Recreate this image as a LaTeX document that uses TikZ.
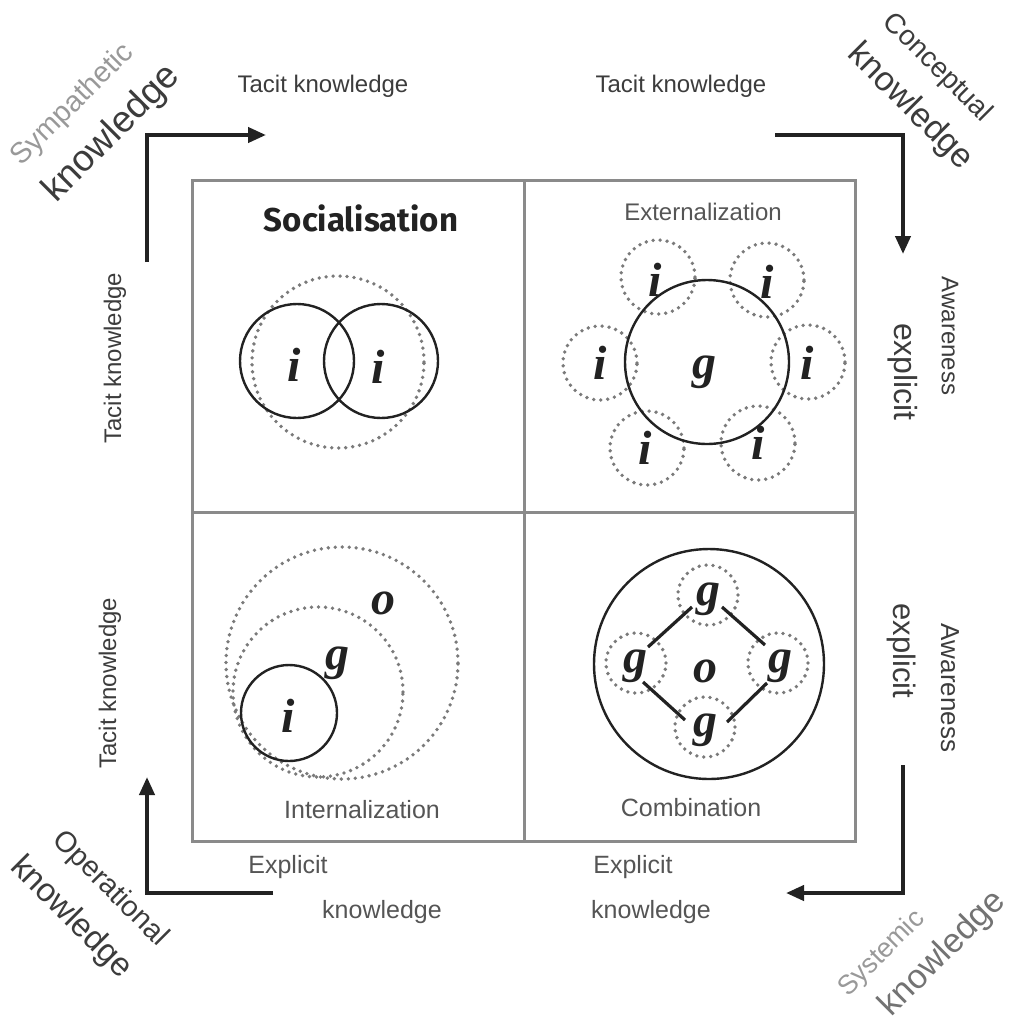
\documentclass[tikz,border=0pt]{standalone}
\usepackage{fontspec}
\setmainfont{Liberation Sans}
\newfontfamily\letfont{Liberation Serif}
\newfontfamily\socfont{Fira Sans}
\usetikzlibrary{arrows.meta}
\definecolor{txt}{HTML}{3C3C3C}
\definecolor{subt}{HTML}{555555}
\definecolor{framec}{HTML}{8A8A8A}
\definecolor{dotcol}{HTML}{7A7A7A}
\definecolor{ink}{HTML}{222222}
\begin{document}
\begin{tikzpicture}[x=1pt,y=-1pt,
  lbl/.style={text=txt, inner sep=0pt, font=\fontsize{24}{28}\selectfont},
  sub/.style={text=subt, inner sep=0pt, font=\fontsize{25}{28}\selectfont},
  bigl/.style={text=txt, inner sep=0pt, font=\fontsize{32}{36}\selectfont},
  corn/.style={inner sep=0pt},
  letter/.style={inner sep=0pt, text=ink, font=\letfont\bfseries\itshape\fontsize{48}{50}\selectfont},
  solidc/.style={circle, draw=ink, line width=2.4pt, inner sep=0pt},
  dotc/.style={circle, draw=dotcol, line width=3.8pt, dash pattern=on 0pt off 7pt, line cap=round, inner sep=0pt},
  arr/.style={line width=4pt, draw=ink, -{Triangle[length=18pt,width=15pt]}},
  framel/.style={draw=framec, line width=3pt},
  link/.style={draw=ink, line width=3.2pt}
]
\useasboundingbox (0,0) rectangle (1024,1021);
\fill[white] (0,0) rectangle (1024,1021);

% frame
\coordinate (ftl) at (192,180);
\coordinate (fbr) at (855,841);
\coordinate (vt) at (524,180);
\coordinate (vb) at (524,841);
\coordinate (hl) at (192,512);
\coordinate (hr) at (855,512);
\draw[framel] (ftl) rectangle (fbr);
\draw[framel] (vt) -- (vb);
\draw[framel] (hl) -- (hr);

% arrows
\coordinate (a1s) at (147,262); \coordinate (a1c) at (147,135); \coordinate (a1e) at (266,135);
\draw[arr] (a1s) -- (a1c) -- (a1e);
\coordinate (a2s) at (775,135); \coordinate (a2c) at (903,135); \coordinate (a2e) at (903,254);
\draw[arr] (a2s) -- (a2c) -- (a2e);
\coordinate (a3s) at (903,765); \coordinate (a3c) at (903,893); \coordinate (a3e) at (786,893);
\draw[arr] (a3s) -- (a3c) -- (a3e);
\coordinate (a4s) at (273,893); \coordinate (a4c) at (147,893); \coordinate (a4e) at (147,777);
\draw[arr] (a4s) -- (a4c) -- (a4e);

% outer labels
\node[lbl] (ttl) at (323,86) {Tacit knowledge};
\node[lbl] (ttr) at (681,86) {Tacit knowledge};
\node[lbl, rotate=90] (tlu) at (115,358) {Tacit knowledge};
\node[lbl, rotate=90] (tll) at (110,683) {Tacit knowledge};
\node[lbl, rotate=-90] (awu) at (950,336) {Awareness};
\node[bigl, rotate=-90] (exu) at (903,372) {explicit};
\node[lbl, rotate=-90, font=\fontsize{26}{28}\selectfont] (awl) at (950,688) {Awareness};
\node[bigl, rotate=-90, font=\fontsize{31}{34}\selectfont] (exl) at (901,651) {explicit};
\node[sub] (ebl) at (288,867) {Explicit};
\node[sub] (kbl) at (382,912) {knowledge};
\node[sub] (ebr) at (633,867) {Explicit};
\node[sub] (kbr) at (651,912) {knowledge};

% corner labels
\node[corn, rotate=45, text=black!40, font=\fontsize{29}{32}\selectfont] (symp) at (73,105) {Sympathetic};
\node[corn, rotate=45, text=txt, font=\fontsize{37}{40}\selectfont] (sympk) at (112,134) {knowledge};
\node[corn, rotate=-45, text=txt, font=\fontsize{28}{32}\selectfont] (conc) at (937,68) {Conceptual};
\node[corn, rotate=-45, text=txt, font=\fontsize{34}{38}\selectfont] (conck) at (910,107) {knowledge};
\node[corn, rotate=-45, text=txt, font=\fontsize{29}{32}\selectfont] (oper) at (110,889) {Operational};
\node[corn, rotate=-45, text=txt, font=\fontsize{33}{36}\selectfont] (operk) at (71,918) {knowledge};
\node[corn, rotate=45, text=black!40, font=\fontsize{27}{30}\selectfont] (syst) at (882,954) {Systemic};
\node[corn, rotate=45, text=black!55, font=\fontsize{34}{38}\selectfont] (systk) at (943,954) {knowledge};

% ---- Socialisation
\node[inner sep=0pt, text=ink, font=\socfont\bfseries\fontsize{33}{36}\selectfont] (soc) at (361,218) {Socialisation};
\node[dotc, minimum size=172pt] (sd) at (338,362) {};
\node[solidc, minimum size=114pt] (s1) at (297,361) {};
\node[solidc, minimum size=114pt] (s2) at (381,361) {};
\node[letter] (si1) at (294,365) {i};
\node[letter] (si2) at (378,367) {i};

% ---- Externalization
\node[sub, font=\fontsize{24}{28}\selectfont] (ext) at (703,212) {Externalization};
\node[dotc, minimum size=74pt] (ed1) at (658,277) {};
\node[dotc, minimum size=74pt] (ed2) at (767,280) {};
\node[dotc, minimum size=74pt] (ed3) at (600,363) {};
\node[dotc, minimum size=74pt] (ed4) at (808,362) {};
\node[dotc, minimum size=74pt] (ed5) at (647,448) {};
\node[dotc, minimum size=74pt] (ed6) at (758,443) {};
\node[solidc, minimum size=164pt] (eg) at (707,362) {};
\node[letter] (eg1) at (704,372) {g};
\node[letter] (ei1) at (655,280) {i};
\node[letter] (ei2) at (767,282) {i};
\node[letter] (ei3) at (600,363) {i};
\node[letter] (ei4) at (807,363) {i};
\node[letter] (ei5) at (645,448) {i};
\node[letter] (ei6) at (758,443) {i};

% ---- Internalization
\node[dotc, minimum size=232pt] (io) at (342,663) {};
\node[dotc, minimum size=170pt] (ig) at (318,692) {};
\node[solidc, minimum size=96pt] (ii) at (289,713) {};
\node[letter] (iol) at (383,603) {o};
\node[letter] (igl) at (337,663) {g};
\node[letter] (iil) at (288,716) {i};
\node[sub] (inte) at (362,810) {Internalization};

% ---- Combination
\node[solidc, minimum size=230pt] (co) at (709,664) {};
\node[dotc, minimum size=60pt] (cd1) at (708,595) {};
\node[dotc, minimum size=60pt] (cd2) at (636,663) {};
\node[dotc, minimum size=60pt] (cd3) at (778,663) {};
\node[dotc, minimum size=60pt] (cd4) at (705,727) {};
\node[letter] (cg1) at (708,599) {g};
\node[letter] (cg2) at (635,666) {g};
\node[letter] (cg3) at (780,666) {g};
\node[letter] (cg4) at (705,730) {g};
\node[letter] (col) at (705,671) {o};
\coordinate (l1a) at (692,607); \coordinate (l1b) at (648,647);
\coordinate (l2a) at (722,607); \coordinate (l2b) at (765,645);
\coordinate (l3a) at (643,682); \coordinate (l3b) at (685,720);
\coordinate (l4a) at (727,722); \coordinate (l4b) at (767,683);
\draw[link] (l1a) -- (l1b);
\draw[link] (l2a) -- (l2b);
\draw[link] (l3a) -- (l3b);
\draw[link] (l4a) -- (l4b);
\node[sub] (comb) at (691,808) {Combination};
\end{tikzpicture}
\end{document}
